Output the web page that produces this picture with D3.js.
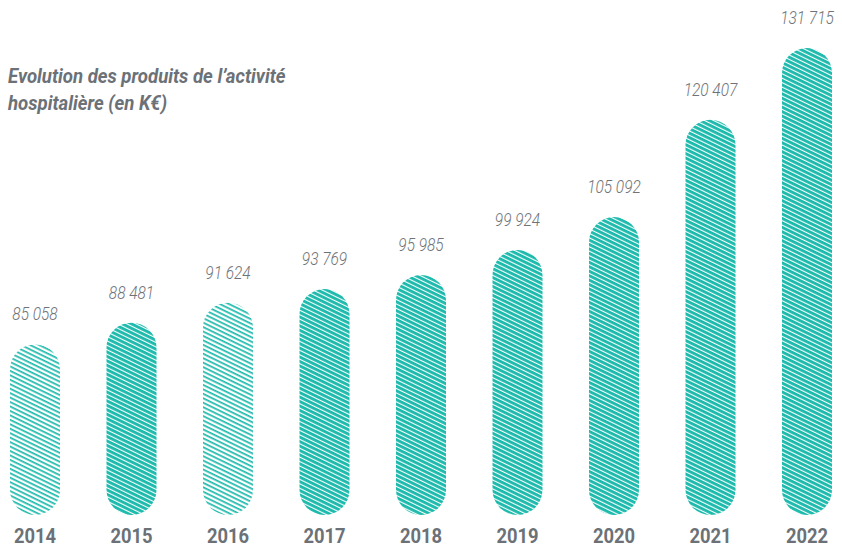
<!DOCTYPE html>
<html><head><meta charset="utf-8">
<script src="https://cdn.jsdelivr.net/npm/d3@7"></script>
<style>body{margin:0;background:#fff}</style>
</head><body>
<svg id="chart" width="842" height="547"></svg>
<script>
const years = ["2014","2015","2016","2017","2018","2019","2020","2021","2022"];
const values = [85058, 88481, 91624, 93769, 95985, 99924, 105092, 120407, 131715];
const lightYears = ["2014","2016"];
const titleLines = ["Evolution des produits de l\u2019activité", "hospitalière (en K€)"];

const teal = "#1cbaac", grey = "#6b7177";
const svg = d3.select("#chart");
const baseY = 515, barW = 50;

const x = d3.scalePoint().domain(years).range([35, 807]);
const y = d3.scaleLinear().domain([58200, 131715]).range([baseY, 48]);

const defs = svg.append("defs");
function pat(id, thick) {
  const p = defs.append("pattern").attr("id", id)
    .attr("patternUnits", "userSpaceOnUse").attr("width", 8).attr("height", 4)
    .attr("patternTransform", "rotate(26)");
  p.append("rect").attr("width", 8).attr("height", 4).attr("fill", "#fff");
  p.append("rect").attr("width", 8).attr("height", thick).attr("fill", teal);
}
pat("dark", 2.9);
pat("light", 1.7);

const fmt = v => d3.format(",")(v).replace(/,/g, " ");

const g = svg.append("g");
g.selectAll("rect.bar").data(years).join("rect").attr("class", "bar")
  .attr("x", d => x(d) - barW / 2)
  .attr("y", (d, i) => y(values[i]))
  .attr("width", barW)
  .attr("height", (d, i) => baseY - y(values[i]))
  .attr("rx", barW / 2).attr("ry", barW / 2)
  .attr("fill", d => lightYears.includes(d) ? "url(#light)" : "url(#dark)");

g.selectAll("text.val").data(years).join("text").attr("class", "val")
  .attr("transform", (d, i) => `translate(${x(d)},${y(values[i]) - 24}) scale(0.86,1)`)
  .attr("text-anchor", "middle")
  .attr("font-family", "Roboto").attr("font-style", "italic").attr("font-weight", 300)
  .attr("font-size", 18).attr("fill", "#6f7378")
  .text((d, i) => fmt(values[i]));

g.selectAll("text.year").data(years).join("text").attr("class", "year")
  .attr("transform", d => `translate(${x(d)},543) scale(0.92,1)`)
  .attr("text-anchor", "middle")
  .attr("font-family", "Roboto").attr("font-weight", 700)
  .attr("font-size", 20).attr("fill", grey)
  .text(d => d);

const t = svg.append("g").attr("transform", "translate(8,0) scale(0.93,1)");
t.selectAll("text").data(titleLines).join("text")
  .attr("x", 0).attr("y", (d, i) => 83 + i * 27)
  .attr("font-family", "Roboto").attr("font-style", "italic").attr("font-weight", 700)
  .attr("font-size", 20).attr("fill", grey)
  .text(d => d);
</script>
</body></html>
